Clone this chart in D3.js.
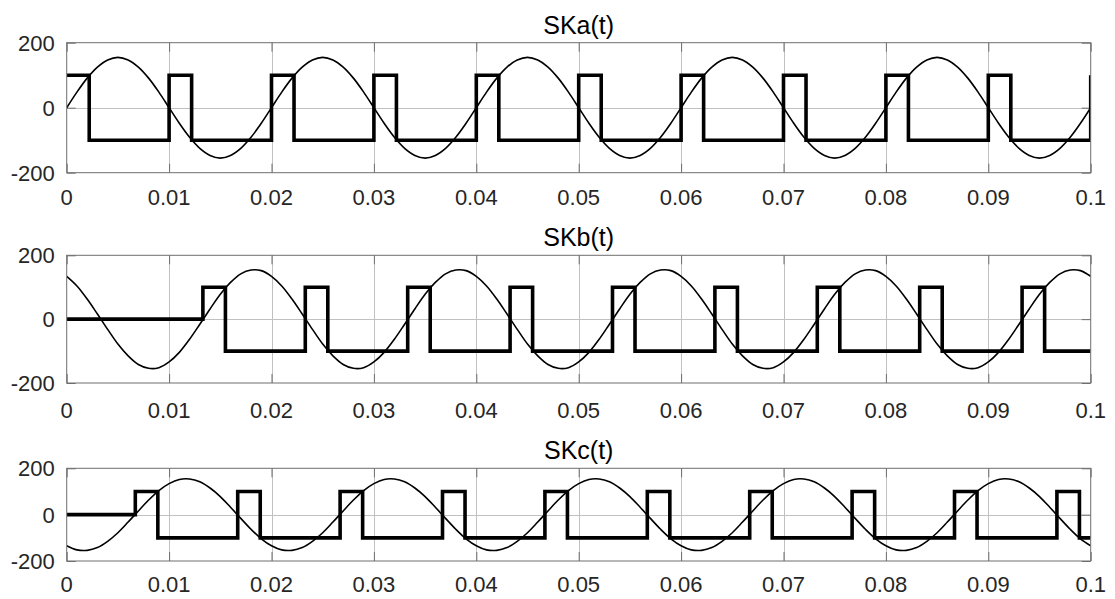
<!DOCTYPE html>
<html>
<head>
<meta charset="utf-8">
<script src="https://cdn.jsdelivr.net/npm/d3@7"></script>
<style>
  html, body { margin: 0; padding: 0; background: #fff; }
  svg { display: block; font-family: "Liberation Sans", Arial, Helvetica, sans-serif; }
</style>
</head>
<body>
<svg id="chart" width="1115" height="599"></svg>
<script>
// ---------------- data ----------------
const titles = ["SKa(t)", "SKb(t)", "SKc(t)"];
const xTicks = [0, 0.01, 0.02, 0.03, 0.04, 0.05, 0.06, 0.07, 0.08, 0.09, 0.1];
const xTickLabels = ["0", "0.01", "0.02", "0.03", "0.04", "0.05", "0.06", "0.07", "0.08", "0.09", "0.1"];
const yTicks = [-200, 0, 200];
const yTickLabels = ["-200", "0", "200"];

// sine samples every 0.001 s from 0 to 0.1
const sineTimes = d3.range(101).map(i => +(i * 0.001).toFixed(3));
const sineA = [0,48,91,125,147,155,147,125,91,48,0,-48,-91,-125,-147,-155,-147,-125,-91,-48,
               0,48,91,125,147,155,147,125,91,48,0,-48,-91,-125,-147,-155,-147,-125,-91,-48,
               0,48,91,125,147,155,147,125,91,48,0,-48,-91,-125,-147,-155,-147,-125,-91,-48,
               0,48,91,125,147,155,147,125,91,48,0,-48,-91,-125,-147,-155,-147,-125,-91,-48,
               0,48,91,125,147,155,147,125,91,48,0,-48,-91,-125,-147,-155,-147,-125,-91,-48,
               0];
const sineB = [134,104,63,16,-32,-78,-115,-142,-154,-152,-134,-104,-63,-16,32,78,115,142,154,152,
               134,104,63,16,-32,-78,-115,-142,-154,-152,-134,-104,-63,-16,32,78,115,142,154,152,
               134,104,63,16,-32,-78,-115,-142,-154,-152,-134,-104,-63,-16,32,78,115,142,154,152,
               134,104,63,16,-32,-78,-115,-142,-154,-152,-134,-104,-63,-16,32,78,115,142,154,152,
               134,104,63,16,-32,-78,-115,-142,-154,-152,-134,-104,-63,-16,32,78,115,142,154,152,
               134];
const sineC = [-134,-152,-154,-142,-115,-78,-32,16,63,104,134,152,154,142,115,78,32,-16,-63,-104,
               -134,-152,-154,-142,-115,-78,-32,16,63,104,134,152,154,142,115,78,32,-16,-63,-104,
               -134,-152,-154,-142,-115,-78,-32,16,63,104,134,152,154,142,115,78,32,-16,-63,-104,
               -134,-152,-154,-142,-115,-78,-32,16,63,104,134,152,154,142,115,78,32,-16,-63,-104,
               -134,-152,-154,-142,-115,-78,-32,16,63,104,134,152,154,142,115,78,32,-16,-63,-104,
               -134];

// switching signals: breakpoints (step-after)
const skaTimes  = [0, 0.0022, 0.01, 0.0122, 0.02, 0.0222, 0.03, 0.0322, 0.04, 0.0422, 0.05, 0.0522,
                   0.06, 0.0622, 0.07, 0.0722, 0.08, 0.0822, 0.09, 0.0922, 0.1];
const skaValues = [100, -100, 100, -100, 100, -100, 100, -100, 100, -100, 100, -100,
                   100, -100, 100, -100, 100, -100, 100, -100, 100];
const skbTimes  = [0, 0.0133, 0.0155, 0.0233, 0.0255, 0.0333, 0.0355, 0.0433, 0.0455, 0.0533, 0.0555,
                   0.0633, 0.0655, 0.0733, 0.0755, 0.0833, 0.0855, 0.0933, 0.0955, 0.1];
const skbValues = [0, 100, -100, 100, -100, 100, -100, 100, -100, 100, -100,
                   100, -100, 100, -100, 100, -100, 100, -100, -100];
const skcTimes  = [0, 0.0067, 0.0089, 0.0167, 0.0189, 0.0267, 0.0289, 0.0367, 0.0389, 0.0467, 0.0489,
                   0.0567, 0.0589, 0.0667, 0.0689, 0.0767, 0.0789, 0.0867, 0.0889, 0.0967, 0.0989, 0.1];
const skcValues = [0, 100, -100, 100, -100, 100, -100, 100, -100, 100, -100,
                   100, -100, 100, -100, 100, -100, 100, -100, 100, -100, -100];

// ---------------- layout ----------------
const panels = [
  { title: titles[0], top: 42.7, bottom: 172.7, labelGap: 16.5, sine: sineA, swT: skaTimes, swV: skaValues },
  { title: titles[1], top: 255.3, bottom: 383,  labelGap: 19.5, sine: sineB, swT: skbTimes, swV: skbValues },
  { title: titles[2], top: 468.3, bottom: 561,  labelGap: 15,   sine: sineC, swT: skcTimes, swV: skcValues }
];
const left = 66.7, right = 1090.7;
const tickFont = 22, titleFont = 25;
const boxColor = "#6f6f6f", gridColor = "#c0c0c0", textColor = "#262626";

const svg = d3.select("#chart");
const x = d3.scaleLinear().domain([0, 0.1]).range([left, right]);

panels.forEach((p, i) => {
  const y = d3.scaleLinear().domain([-200, 200]).range([p.bottom, p.top]);
  const g = svg.append("g");
  const clipId = "clip" + i;
  svg.append("clipPath").attr("id", clipId)
    .append("rect").attr("x", left).attr("y", p.top)
    .attr("width", right - left).attr("height", p.bottom - p.top);

  // grid
  g.append("g").selectAll("line").data(xTicks.slice(1, -1)).join("line")
    .attr("x1", d => Math.round(x(d)) + 0.5).attr("x2", d => Math.round(x(d)) + 0.5)
    .attr("y1", p.top).attr("y2", p.bottom)
    .attr("stroke", gridColor).attr("stroke-width", 1);
  g.append("g").selectAll("line").data([0]).join("line")
    .attr("x1", left).attr("x2", right)
    .attr("y1", d => Math.round(y(d)) + 0.5).attr("y2", d => Math.round(y(d)) + 0.5)
    .attr("stroke", gridColor).attr("stroke-width", 1);

  // ticks inside (axis generators)
  const tickLen = 9;
  const axB = d3.axisBottom(x).tickValues(xTicks).tickSize(-tickLen).tickFormat("");
  const axT = d3.axisTop(x).tickValues(xTicks).tickSize(-tickLen).tickFormat("");
  const axL = d3.axisLeft(y).tickValues(yTicks).tickSize(-tickLen).tickFormat("");
  const axR = d3.axisRight(y).tickValues(yTicks).tickSize(-tickLen).tickFormat("");
  [[axB, `translate(0,${p.bottom})`], [axT, `translate(0,${p.top})`],
   [axL, `translate(${left},0)`], [axR, `translate(${right},0)`]].forEach(([ax, tr]) => {
    const a = g.append("g").attr("transform", tr).call(ax);
    a.select(".domain").remove();
    a.selectAll("line").attr("stroke", boxColor).attr("stroke-width", 1);
  });

  // lines
  const sineData = sineTimes.map((t, k) => [t, p.sine[k]]);
  g.append("path").datum(sineData)
    .attr("clip-path", `url(#${clipId})`)
    .attr("fill", "none").attr("stroke", "#000").attr("stroke-width", 1.6)
    .attr("d", d3.line().x(d => x(d[0])).y(d => y(d[1])).curve(d3.curveCatmullRom.alpha(0.5)));

  const swData = p.swT.map((t, k) => [t, p.swV[k]]);
  g.append("path").datum(swData)
    .attr("clip-path", `url(#${clipId})`)
    .attr("fill", "none").attr("stroke", "#000").attr("stroke-width", 3.6)
    .attr("stroke-linejoin", "miter")
    .attr("d", d3.line().x(d => x(d[0])).y(d => y(d[1])).curve(d3.curveStepAfter));

  // box
  g.append("rect").attr("x", left).attr("y", p.top)
    .attr("width", right - left).attr("height", p.bottom - p.top)
    .attr("fill", "none").attr("stroke", boxColor).attr("stroke-width", 1);

  // tick labels
  g.append("g").selectAll("text").data(xTicks).join("text")
    .attr("x", d => x(d)).attr("y", p.bottom + p.labelGap)
    .attr("dy", "0.72em")
    .attr("text-anchor", "middle").attr("font-size", tickFont).attr("fill", textColor)
    .text((d, k) => xTickLabels[k]);
  g.append("g").selectAll("text").data(yTicks).join("text")
    .attr("x", left - 12).attr("y", d => y(d))
    .attr("dy", "0.36em")
    .attr("text-anchor", "end").attr("font-size", tickFont).attr("fill", textColor)
    .text((d, k) => yTickLabels[k]);

  // title
  g.append("text").attr("x", (left + right) / 2).attr("y", p.top - 9)
    .attr("text-anchor", "middle").attr("font-size", titleFont).attr("fill", "#000")
    .text(p.title);
});
</script>
</body>
</html>
